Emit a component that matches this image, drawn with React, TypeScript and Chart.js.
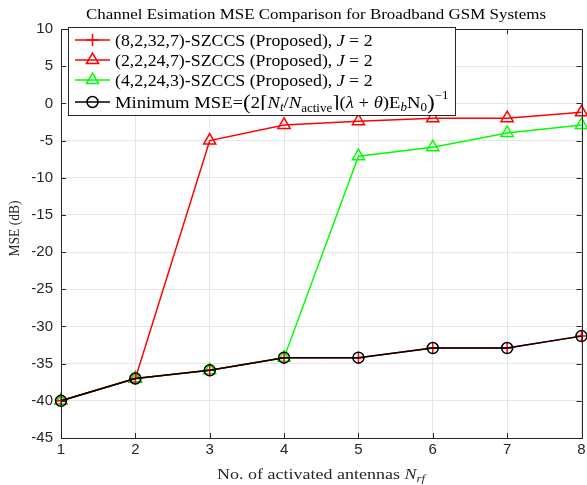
import React, { useEffect, useRef } from "react";
import { Chart, registerables } from "chart.js";

Chart.register(...registerables);

const antennas = [1, 2, 3, 4, 5, 6, 7, 8];
const mseA = [-40, -37, -35.9, -34.2, -34.2, -32.9, -32.9, -31.3]; // (8,2,32,7)
const mseB = [-40, -37, -5, -2.9, -2.4, -2.0, -2.0, -1.2]; // (2,2,24,7)
const mseC = [-40, -37, -35.9, -34.2, -7.1, -5.9, -4.0, -2.9]; // (4,2,24,3)
const mseMin = [-40, -37, -35.9, -34.2, -34.2, -32.9, -32.9, -31.3];
const yTicks = [10, 5, 0, -5, -10, -15, -20, -25, -30, -35, -40, -45];

const titleText = "Channel Esimation MSE Comparison for Broadband GSM Systems";
const RED = "#ff0000";
const GREEN = "#00ff00";
const BLACK = "#000000";
const FRAME = "#262626";
const SERIF = "'Liberation Serif', 'DejaVu Serif', serif";
const SANS = "'Liberation Sans', Arial, sans-serif";

type Seg = { t: string; it?: boolean; sc?: number; dy?: number };

function richWidth(ctx: CanvasRenderingContext2D, segs: Seg[], size: number) {
  let w = 0;
  for (const s of segs) {
    const fs = size * (s.sc ?? 1);
    ctx.font = `${s.it ? "italic " : ""}${fs}px ${SERIF}`;
    w += ctx.measureText(s.t).width;
  }
  return w;
}

// draws text segments with a horizontal stretch factor hs; (x,y) is left baseline
function drawRich(ctx: CanvasRenderingContext2D, segs: Seg[], x: number, y: number, size: number, color: string, hs: number) {
  ctx.save();
  ctx.translate(x, y);
  ctx.scale(hs, 1);
  let cx = 0;
  ctx.fillStyle = color;
  ctx.textBaseline = "alphabetic";
  ctx.textAlign = "left";
  for (const s of segs) {
    const fs = size * (s.sc ?? 1);
    ctx.font = `${s.it ? "italic " : ""}${fs}px ${SERIF}`;
    ctx.fillText(s.t, cx, s.dy ?? 0);
    cx += ctx.measureText(s.t).width;
  }
  ctx.restore();
  return cx * hs;
}

function marker(ctx: CanvasRenderingContext2D, kind: string, x: number, y: number, color: string) {
  ctx.save();
  ctx.strokeStyle = color;
  ctx.lineWidth = 1.5;
  ctx.beginPath();
  if (kind === "cross") {
    ctx.moveTo(x - 6, y);
    ctx.lineTo(x + 6, y);
    ctx.moveTo(x, y - 6);
    ctx.lineTo(x, y + 6);
  } else if (kind === "triangle") {
    const r = 7;
    for (let i = 0; i < 3; i++) {
      const a = (i * 2 * Math.PI) / 3;
      const px = x + Math.sin(a) * r;
      const py = y - Math.cos(a) * r;
      if (i === 0) ctx.moveTo(px, py);
      else ctx.lineTo(px, py);
    }
    ctx.closePath();
  } else {
    ctx.arc(x, y, 5.5, 0, Math.PI * 2);
  }
  ctx.stroke();
  ctx.restore();
}

const legendItems: { color: string; kind: string; segs: Seg[] }[] = [
  { color: RED, kind: "cross", segs: [{ t: "(8,2,32,7)-SZCCS (Proposed), " }, { t: "J", it: true }, { t: " = 2" }] },
  { color: RED, kind: "triangle", segs: [{ t: "(2,2,24,7)-SZCCS (Proposed), " }, { t: "J", it: true }, { t: " = 2" }] },
  { color: GREEN, kind: "triangle", segs: [{ t: "(4,2,24,3)-SZCCS (Proposed), " }, { t: "J", it: true }, { t: " = 2" }] },
  {
    color: BLACK,
    kind: "circle",
    segs: [
      { t: "Minimum MSE=" },
      { t: "(", sc: 1.25, dy: 1 },
      { t: "2⌈" },
      { t: "N", it: true },
      { t: "t", it: true, sc: 0.7, dy: 3 },
      { t: "/" },
      { t: "N", it: true },
      { t: "active", sc: 0.7, dy: 4 },
      { t: "⌉(" },
      { t: "λ", it: true },
      { t: " + " },
      { t: "θ", it: true },
      { t: ")E" },
      { t: "b", it: true, sc: 0.7, dy: 3 },
      { t: "N" },
      { t: "0", sc: 0.7, dy: 3 },
      { t: ")", sc: 1.25, dy: 1 },
      { t: "−1", sc: 0.7, dy: -9 },
    ],
  },
];

const decor = {
  id: "decor",
  afterDraw(chart: any) {
    const ctx: CanvasRenderingContext2D = chart.ctx;
    const { left, right, top, bottom } = chart.chartArea;
    const xs = chart.scales.x;
    const ys = chart.scales.y;
    ctx.save();
    // frame
    ctx.strokeStyle = FRAME;
    ctx.lineWidth = 1;
    ctx.strokeRect(Math.round(left) + 0.5, Math.round(top) + 0.5, Math.round(right - left), Math.round(bottom - top));
    // inward ticks
    ctx.beginPath();
    for (const v of antennas) {
      const px = Math.round(xs.getPixelForValue(v)) + 0.5;
      ctx.moveTo(px, bottom);
      ctx.lineTo(px, bottom - 5);
      ctx.moveTo(px, top);
      ctx.lineTo(px, top + 5);
    }
    for (const v of yTicks) {
      const py = Math.round(ys.getPixelForValue(v)) + 0.5;
      ctx.moveTo(left, py);
      ctx.lineTo(left + 5, py);
      ctx.moveTo(right, py);
      ctx.lineTo(right - 5, py);
    }
    ctx.stroke();

    // title
    const tl: Seg[] = [{ t: titleText }];
    const th = 1.13;
    const tw = richWidth(ctx, tl, 15) * th;
    drawRich(ctx, tl, 316 - tw / 2, 19, 15, "#000", th);

    // x-axis title
    const xl: Seg[] = [{ t: "No. of activated antennas " }, { t: "N", it: true }, { t: "rf", it: true, sc: 0.7, dy: 3 }];
    const xh = 1.2;
    const xw = richWidth(ctx, xl, 15) * xh;
    drawRich(ctx, xl, 321 - xw / 2, 479, 15, "#262626", xh);

    // y-axis title
    ctx.save();
    ctx.translate(19, 228.5);
    ctx.rotate(-Math.PI / 2);
    const yl: Seg[] = [{ t: "MSE (dB)" }];
    const yh = 0.9;
    const yw = richWidth(ctx, yl, 15) * yh;
    drawRich(ctx, yl, -yw / 2, 0, 15, "#262626", yh);
    ctx.restore();

    // legend
    const lx = 68, ly = 27, lw = 387, lh = 88;
    ctx.fillStyle = "#fff";
    ctx.fillRect(lx, ly, lw, lh);
    ctx.strokeStyle = FRAME;
    ctx.lineWidth = 1;
    ctx.strokeRect(lx + 0.5, ly + 0.5, lw, lh);
    const rows = [40, 60, 80, 102];
    legendItems.forEach((it, i) => {
      const y = rows[i];
      ctx.strokeStyle = it.color;
      ctx.lineWidth = 1.5;
      ctx.beginPath();
      ctx.moveTo(75, y);
      ctx.lineTo(110, y);
      ctx.stroke();
      marker(ctx, it.kind, 92.5, y, it.color);
      drawRich(ctx, it.segs, 115, y + 6, 16.5, "#000", i === 3 ? 1.13 : 1.08);
    });
    ctx.restore();
  },
};

function ds(label: string, vals: number[], color: string, style: string, radius: number, order: number) {
  return {
    label,
    data: antennas.map((x, i) => ({ x, y: vals[i] })),
    borderColor: color,
    backgroundColor: "transparent",
    pointStyle: style,
    pointRadius: radius,
    pointBorderColor: color,
    pointBackgroundColor: "transparent",
    pointBorderWidth: 1.5,
    borderWidth: 1.5,
    tension: 0,
    clip: false,
    order,
  };
}

// canvas is slightly wider than the window; the wrapper crops it to 587px
const CANVAS_W = 590;

export default function App() {
  const ref = useRef<HTMLCanvasElement>(null);
  useEffect(() => {
    const c = new Chart(ref.current!, {
      type: "line",
      data: {
        datasets: [
          ds("(8,2,32,7)", mseA, RED, "cross", 6, 1),
          ds("(2,2,24,7)", mseB, RED, "triangle", 7, 3),
          ds("(4,2,24,3)", mseC, GREEN, "triangle", 7, 2),
          ds("min", mseMin, BLACK, "circle", 5.5, 0),
        ] as any,
      },
      options: {
        animation: false,
        responsive: false,
        maintainAspectRatio: false,
        layout: { padding: { top: 29, right: 6, left: 0, bottom: 0 } },
        plugins: { legend: { display: false }, tooltip: { enabled: false }, title: { display: false } },
        scales: {
          x: {
            type: "linear",
            min: 1,
            max: 8,
            afterFit: (s: any) => {
              s.height = 47;
            },
            ticks: { stepSize: 1, font: { family: SANS, size: 15 }, color: FRAME, padding: 3 },
            grid: { color: "#e6e6e6", drawTicks: false, lineWidth: 1 },
            border: { display: false },
          },
          y: {
            min: -45,
            max: 10,
            afterFit: (s: any) => {
              s.width = 61;
            },
            ticks: { stepSize: 5, font: { family: SANS, size: 15 }, color: FRAME, padding: 8 },
            grid: { color: "#e6e6e6", drawTicks: false, lineWidth: 1 },
            border: { display: false },
          },
        },
      },
      plugins: [decor],
    });
    return () => c.destroy();
  }, []);
  return (
    <div style={{ position: "absolute", left: 0, top: 0, width: 587, height: 485, overflow: "hidden" }}>
      <canvas ref={ref} width={CANVAS_W} height={485} style={{ display: "block" }} />
    </div>
  );
}
